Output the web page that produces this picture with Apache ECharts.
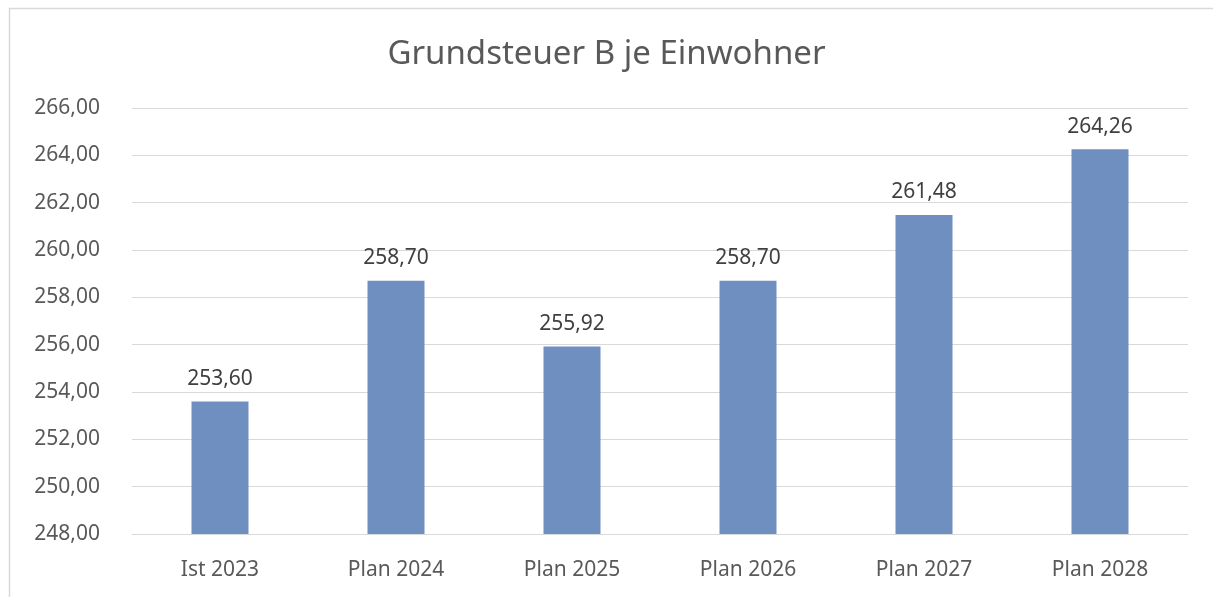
<!DOCTYPE html>
<html>
<head>
<meta charset="utf-8">
<script src="https://cdn.jsdelivr.net/npm/echarts@6/dist/echarts.min.js"></script>
<style>
html,body{margin:0;padding:0;background:#fff;}
#chart{width:1213px;height:597px;}
</style>
</head>
<body>
<div id="chart"></div>
<script>
const titleText = "Grundsteuer B je Einwohner";
const categories = ["Ist 2023", "Plan 2024", "Plan 2025", "Plan 2026", "Plan 2027", "Plan 2028"];
const values = [253.60, 258.70, 255.92, 258.70, 261.48, 264.26];
const yMin = 248, yMax = 266, yStep = 2;

const fmt = v => v.toFixed(2).replace('.', ',');
const FONT = '"Noto Sans", sans-serif';

const chart = echarts.init(document.getElementById('chart'), null, {renderer: 'canvas'});
chart.setOption({
  animation: false,
  backgroundColor: '#ffffff',
  graphic: [{
    type: 'rect', left: 7, top: 6, silent: true,
    shape: {x: 0, y: 0, width: 1230, height: 620},
    style: {fill: 'none', stroke: '#d9d9d9', lineWidth: 1.5}
  }],
  title: {
    text: titleText, left: 'center', top: 33,
    textStyle: {fontFamily: FONT, fontSize: 33, fontWeight: 'normal', color: '#595959'}
  },
  grid: {left: 132, right: 25, top: 108, bottom: 63, containLabel: false},
  xAxis: {
    type: 'category', data: categories,
    axisLine: {show: true, lineStyle: {color: '#d9d9d9', width: 1}},
    axisTick: {show: false},
    axisLabel: {fontFamily: FONT, fontSize: 21, color: '#595959', margin: 26}
  },
  yAxis: {
    type: 'value', min: yMin, max: yMax, interval: yStep,
    axisLine: {show: false}, axisTick: {show: false},
    splitLine: {lineStyle: {color: '#d9d9d9', width: 1}},
    axisLabel: {fontFamily: FONT, fontSize: 21, color: '#595959', margin: 32, formatter: v => fmt(v)}
  },
  series: [{
    type: 'bar', data: values, barWidth: 57,
    itemStyle: {color: '#6e8fbf'},
    label: {show: true, position: 'top', distance: 12, fontFamily: FONT, fontSize: 21, color: '#404040',
      formatter: p => fmt(p.value)}
  }]
});
</script>
</body>
</html>
